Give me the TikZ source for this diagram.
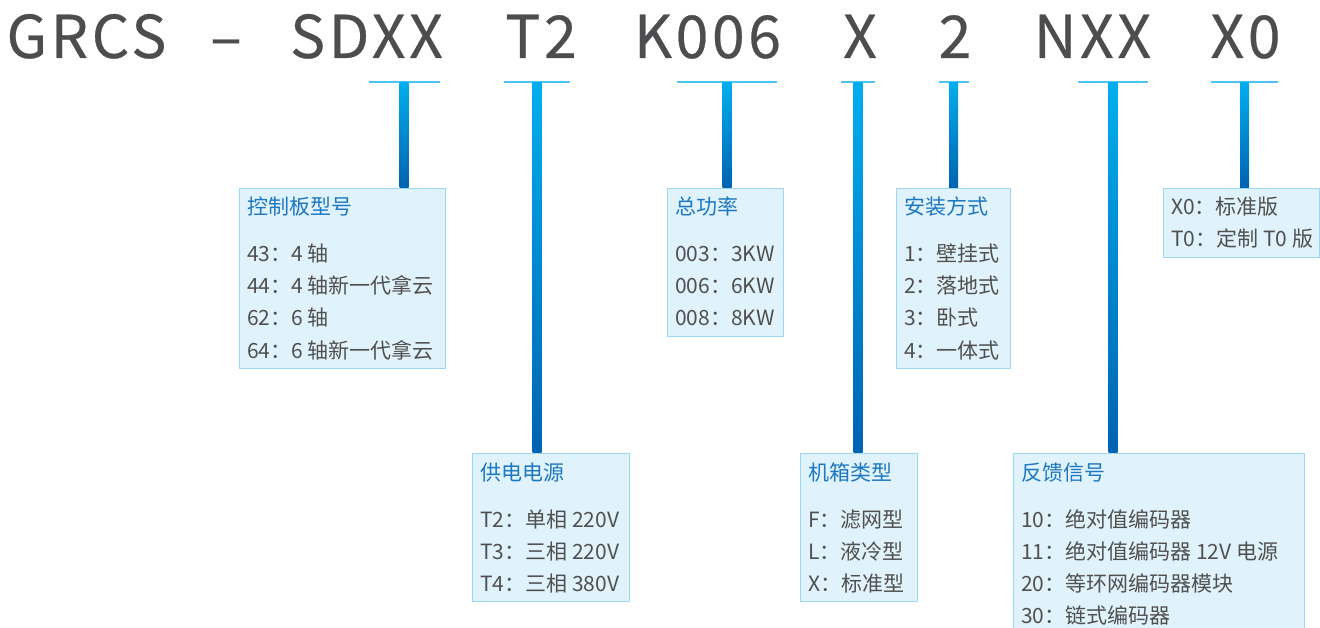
\documentclass[tikz,border=0pt]{standalone}
\usepackage{fontspec}
\setmainfont{Noto Sans CJK SC}
\newfontfamily\titlefont[LetterSpace=6,FakeBold=0.4]{Noto Sans CJK SC}
\usetikzlibrary{calc}
\definecolor{titlegray}{HTML}{4D4D4F}
\definecolor{bodygray}{HTML}{505050}
\definecolor{headblue}{HTML}{1C78C0}
\definecolor{ulblue}{HTML}{4FC3F0}
\definecolor{bartop}{HTML}{00AEEF}
\definecolor{barbot}{HTML}{0063B1}
\definecolor{boxfill}{HTML}{E0F2FB}
\definecolor{boxline}{HTML}{9AD8F5}
\begin{document}
\begin{tikzpicture}[x=1pt,y=-1pt,
  titletext/.style={anchor=base,inner sep=0pt,text=titlegray,font=\titlefont\fontsize{59}{59}\selectfont},
  infobox/.style={draw=boxline,fill=boxfill,line width=1.3pt,anchor=north west,inner sep=0pt},
  uline/.style={draw=ulblue,line width=2.6pt},
  barshade/.style={top color=bartop,bottom color=barbot},
  head/.style={anchor=base west,inner sep=0pt,text=headblue,font=\fontsize{21}{21}\selectfont},
  item/.style={anchor=base west,inner sep=0pt,text=bodygray,font=\fontsize{21}{21}\selectfont}]
\clip (0,0) rectangle (1320,628);
\fill[white] (0,0) rectangle (1320,628);
% title
\node[titletext] (tA) at (86.5,58) {GRCS};
\node[titletext] (tB) at (226,58) {–};
\node[titletext] (tC) at (366.5,58) {SDXX};
\node[titletext] (tD) at (541,58) {T2};
\node[titletext] (tE) at (707.5,58) {K006};
\node[titletext] (tF) at (860,58) {X};
\node[titletext] (tG) at (955,58) {2};
\node[titletext] (tH) at (1092.5,58) {NXX};
\node[titletext] (tI) at (1245.5,58) {X0};
% underlines
\draw[uline] (369,82) -- (440,82); \coordinate (u1) at (404,83);
\draw[uline] (504,82) -- (570,82); \coordinate (u2) at (537,83);
\draw[uline] (677,82) -- (777,82); \coordinate (u3) at (727,83);
\draw[uline] (841,82) -- (875,82); \coordinate (u4) at (858,83);
\draw[uline] (939,82) -- (969,82); \coordinate (u5) at (953.5,83);
\draw[uline] (1078,82) -- (1148,82); \coordinate (u6) at (1113,83);
\draw[uline] (1211,82) -- (1278,82); \coordinate (u7) at (1244.5,83);
% boxes
\node[infobox,minimum width=206pt,minimum height=180pt] (b1) at (239,188) {};
\node[infobox,minimum width=157pt,minimum height=148pt] (b2) at (472,453) {};
\node[infobox,minimum width=116pt,minimum height=148pt] (b3) at (667,188) {};
\node[infobox,minimum width=117pt,minimum height=148pt] (b4) at (800,453) {};
\node[infobox,minimum width=114pt,minimum height=180pt] (b5) at (896,188) {};
\node[infobox,minimum width=291pt,minimum height=200pt] (b6) at (1013,453) {};
\node[infobox,minimum width=156pt,minimum height=69pt] (b7) at (1163,188) {};
% bars
\foreach \u/\b in {u1/b1,u2/b2,u3/b3,u4/b4,u5/b5,u6/b6,u7/b7}{
  \shade[barshade] ($(\u)+(-4.5,0)$) rectangle ($(\u |- \b.north)+(4.5,-0.7)$);
}
% box 1
\node[head] (h1) at (247,215) {控制板型号};
\node[item] (i11) at (247,262) {43：4 轴};
\node[item] (i12) at (247,294) {44：4 轴新一代拿云};
\node[item] (i13) at (247,326) {62：6 轴};
\node[item] (i14) at (247,358) {64：6 轴新一代拿云};
% box 2
\node[head] (h2) at (480,480) {供电电源};
\node[item] (i21) at (480,527) {T2：单相 220V};
\node[item] (i22) at (480,559) {T3：三相 220V};
\node[item] (i23) at (480,591) {T4：三相 380V};
% box 3
\node[head] (h3) at (675,215) {总功率};
\node[item] (i31) at (675,262) {003：3KW};
\node[item] (i32) at (675,294) {006：6KW};
\node[item] (i33) at (675,326) {008：8KW};
% box 4
\node[head] (h4) at (808,480) {机箱类型};
\node[item] (i41) at (808,527) {F：滤网型};
\node[item] (i42) at (808,559) {L：液冷型};
\node[item] (i43) at (808,591) {X：标准型};
% box 5
\node[head] (h5) at (904,215) {安装方式};
\node[item] (i51) at (904,262) {1：壁挂式};
\node[item] (i52) at (904,294) {2：落地式};
\node[item] (i53) at (904,326) {3：卧式};
\node[item] (i54) at (904,358) {4：一体式};
% box 6
\node[head] (h6) at (1021,480) {反馈信号};
\node[item] (i61) at (1021,527) {10：绝对值编码器};
\node[item] (i62) at (1021,559) {11：绝对值编码器 12V 电源};
\node[item] (i63) at (1021,591) {20：等环网编码器模块};
\node[item] (i64) at (1021,623) {30：链式编码器};
% box 7
\node[item] (i71) at (1171,215) {X0：标准版};
\node[item] (i72) at (1171,247) {T0：定制 T0 版};
\end{tikzpicture}
\end{document}
